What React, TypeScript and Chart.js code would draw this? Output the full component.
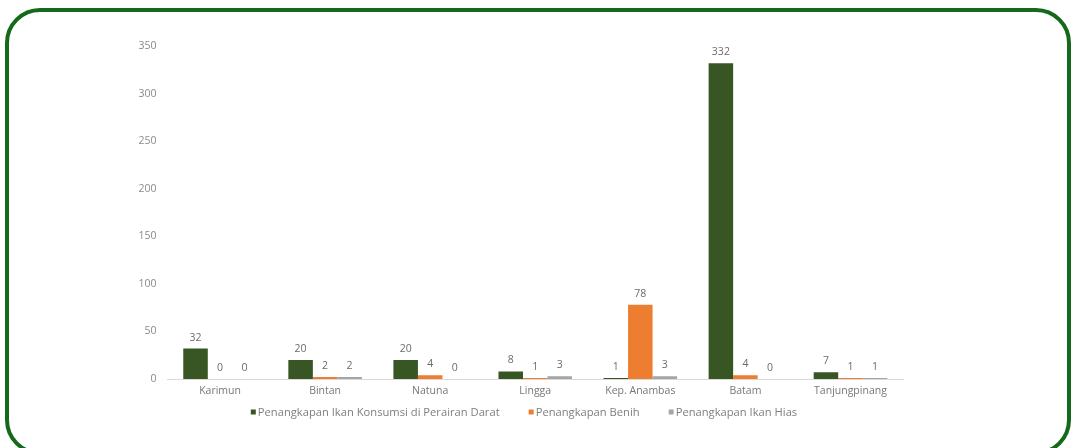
import React, { useEffect, useRef } from "react";
import { Chart, registerables } from "chart.js";

Chart.register(...registerables);

const categories = ["Karimun", "Bintan", "Natuna", "Lingga", "Kep. Anambas", "Batam", "Tanjungpinang"];
const seriesNames = [
  "Penangkapan Ikan Konsumsi di Perairan Darat",
  "Penangkapan Benih",
  "Penangkapan Ikan Hias",
];
const konsumsi = [32, 20, 20, 8, 1, 332, 7];
const benih = [0, 2, 4, 1, 78, 4, 1];
const hias = [0, 2, 0, 3, 3, 0, 1];
const seriesColors = ["#375623", "#ED7D31", "#A5A5A5"];
const yMax = 350;
const yStep = 50;

const FONT = "'Open Sans', 'DejaVu Sans', sans-serif";

const dataLabelPlugin = {
  id: "dataLabels",
  afterDatasetsDraw(chart: any) {
    const ctx = chart.ctx;
    ctx.save();
    ctx.font = `10.5px ${FONT}`;
    ctx.fillStyle = "#6b6b6b";
    ctx.textAlign = "center";
    ctx.textBaseline = "middle";
    chart.data.datasets.forEach((ds: any, i: number) => {
      const meta = chart.getDatasetMeta(i);
      meta.data.forEach((el: any, j: number) => {
        ctx.fillText(String(ds.data[j]), el.x, el.y - 11);
      });
    });
    ctx.restore();
  },
};

const legendPlugin = {
  id: "customLegend",
  afterDraw(chart: any) {
    const ctx = chart.ctx;
    ctx.save();
    ctx.font = `11.2px ${FONT}`;
    ctx.textBaseline = "middle";
    const box = 5;
    const gap = 2;
    const itemGap = 29;
    const widths = chart.data.datasets.map((ds: any) => box + gap + ctx.measureText(ds.label).width);
    const total = widths.reduce((a: number, b: number) => a + b, 0) + itemGap * (widths.length - 1);
    let x = 524 - total / 2;
    const y = 412;
    chart.data.datasets.forEach((ds: any, i: number) => {
      ctx.fillStyle = ds.backgroundColor;
      ctx.fillRect(x, y - box / 2, box, box);
      ctx.fillStyle = "#7e7e7e";
      ctx.textAlign = "left";
      ctx.fillText(ds.label, x + box + gap, y + 0.5);
      x += widths[i] + itemGap;
    });
    ctx.restore();
  },
};

export default function App() {
  const ref = useRef<HTMLCanvasElement | null>(null);

  useEffect(() => {
    document.body.style.margin = "0";
    const canvas = ref.current;
    if (!canvas) return;
    const chart = new Chart(canvas, {
      type: "bar",
      data: {
        labels: categories,
        datasets: [konsumsi, benih, hias].map((d, i) => ({
          label: seriesNames[i],
          data: d,
          backgroundColor: seriesColors[i],
          borderWidth: 0,
          categoryPercentage: 0.7,
          barPercentage: 1.0,
        })),
      },
      options: {
        animation: false,
        responsive: false,
        maintainAspectRatio: false,
        layout: { padding: { left: 137, right: 170, top: 46, bottom: 49 } },
        plugins: {
          legend: { display: false },
          tooltip: { enabled: false },
        },
        scales: {
          x: {
            grid: { display: false, drawTicks: false },
            border: { display: true, color: "#d9d9d9", width: 1 },
            ticks: {
              color: "#777777",
              font: { family: FONT, size: 10.5 },
              padding: 6,
              maxRotation: 0,
              autoSkip: false,
            },
            afterFit: (s: any) => {
              s.height = 20;
            },
          },
          y: {
            min: 0,
            max: yMax,
            grid: { display: false, drawTicks: false },
            border: { display: false },
            ticks: {
              stepSize: yStep,
              color: "#8a8a8a",
              font: { family: FONT, size: 10.5 },
              padding: 11,
            },
            afterFit: (s: any) => {
              s.width = 30.5;
            },
          },
        },
      },
      plugins: [dataLabelPlugin, legendPlugin],
    });
    return () => chart.destroy();
  }, []);

  return (
    <div style={{ position: "relative", width: 1073, height: 448, overflow: "hidden", background: "#fff" }}>
      <canvas ref={ref} width={1073} height={448} style={{ position: "absolute", left: 0, top: 0, display: "block" }} />
      <div
        style={{
          position: "absolute",
          left: 5,
          top: 8,
          width: 1066,
          height: 447,
          boxSizing: "border-box",
          border: "4px solid #14691a",
          borderRadius: 35,
          pointerEvents: "none",
        }}
      />
    </div>
  );
}
